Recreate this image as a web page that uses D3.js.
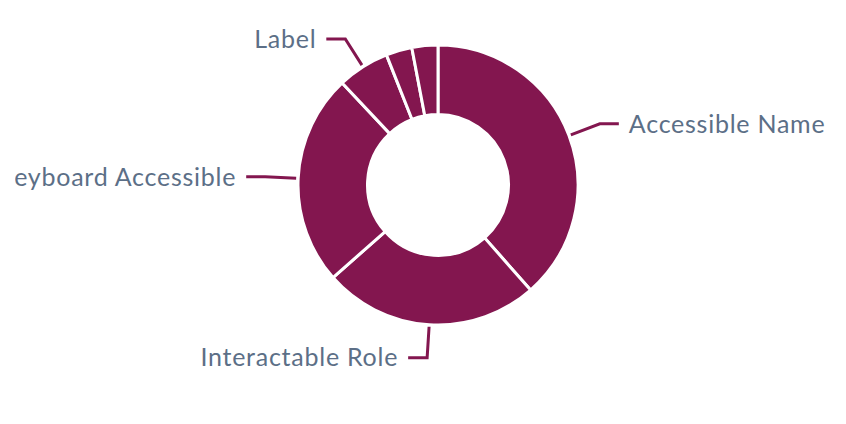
<!DOCTYPE html>
<html><head><meta charset="utf-8">
<script src="https://cdn.jsdelivr.net/npm/d3@7"></script>
<style>html,body{margin:0;padding:0;background:#fff;overflow:hidden}
#c{position:absolute;left:15px;top:0;overflow:hidden}</style>
</head><body>
<svg id="c" width="831" height="424"></svg>
<script>
const categories = ["Accessible Name","Interactable Role","Keyboard Accessible","Label","Focus Visible","Alt Text"];
const values = [38.5, 25, 24.5, 6, 3, 3];
const showLabel = [true, true, true, true, false, false];

const svg = d3.select("#c");
const cx = 423, cy = 185;
const rOuter = 140, rInner = 70.5;
const color = "#83164f";
const g = svg.append("g").attr("transform", `translate(${cx},${cy})`);

const data = categories.map((c,i)=>({name:c, value:values[i], label:showLabel[i]}));
const pie = d3.pie().value(d=>d.value).sort(null);
const arcs = pie(data);
const arc = d3.arc().innerRadius(rInner).outerRadius(rOuter);

g.selectAll("path.s").data(arcs).join("path")
  .attr("class","s").attr("d", arc)
  .attr("fill", color).attr("stroke","#fff").attr("stroke-width",3).attr("stroke-linejoin","round");

const r1 = 142, r2 = 173, hLen = 19, gap = 10;
arcs.filter(a=>a.data.label).forEach(a=>{
  const m = (a.startAngle + a.endAngle)/2;
  const p1 = [r1*Math.sin(m), -r1*Math.cos(m)];
  const p2 = [r2*Math.sin(m), -r2*Math.cos(m)];
  const right = Math.sin(m) >= 0;
  const p3 = [p2[0] + (right ? hLen : -hLen), p2[1]];
  g.append("path").attr("d", d3.line()([p1,p2,p3]))
    .attr("fill","none").attr("stroke",color).attr("stroke-width",3);
  g.append("text")
    .attr("x", p3[0] + (right ? gap : -gap)).attr("y", p3[1])
    .attr("dy","0.35em")
    .attr("text-anchor", right ? "start" : "end")
    .attr("font-family","Lato, sans-serif").attr("font-size",25)
    .attr("letter-spacing","0.75px")
    .attr("fill","#5c6f87")
    .text(a.data.name);
});
</script>
</body></html>
